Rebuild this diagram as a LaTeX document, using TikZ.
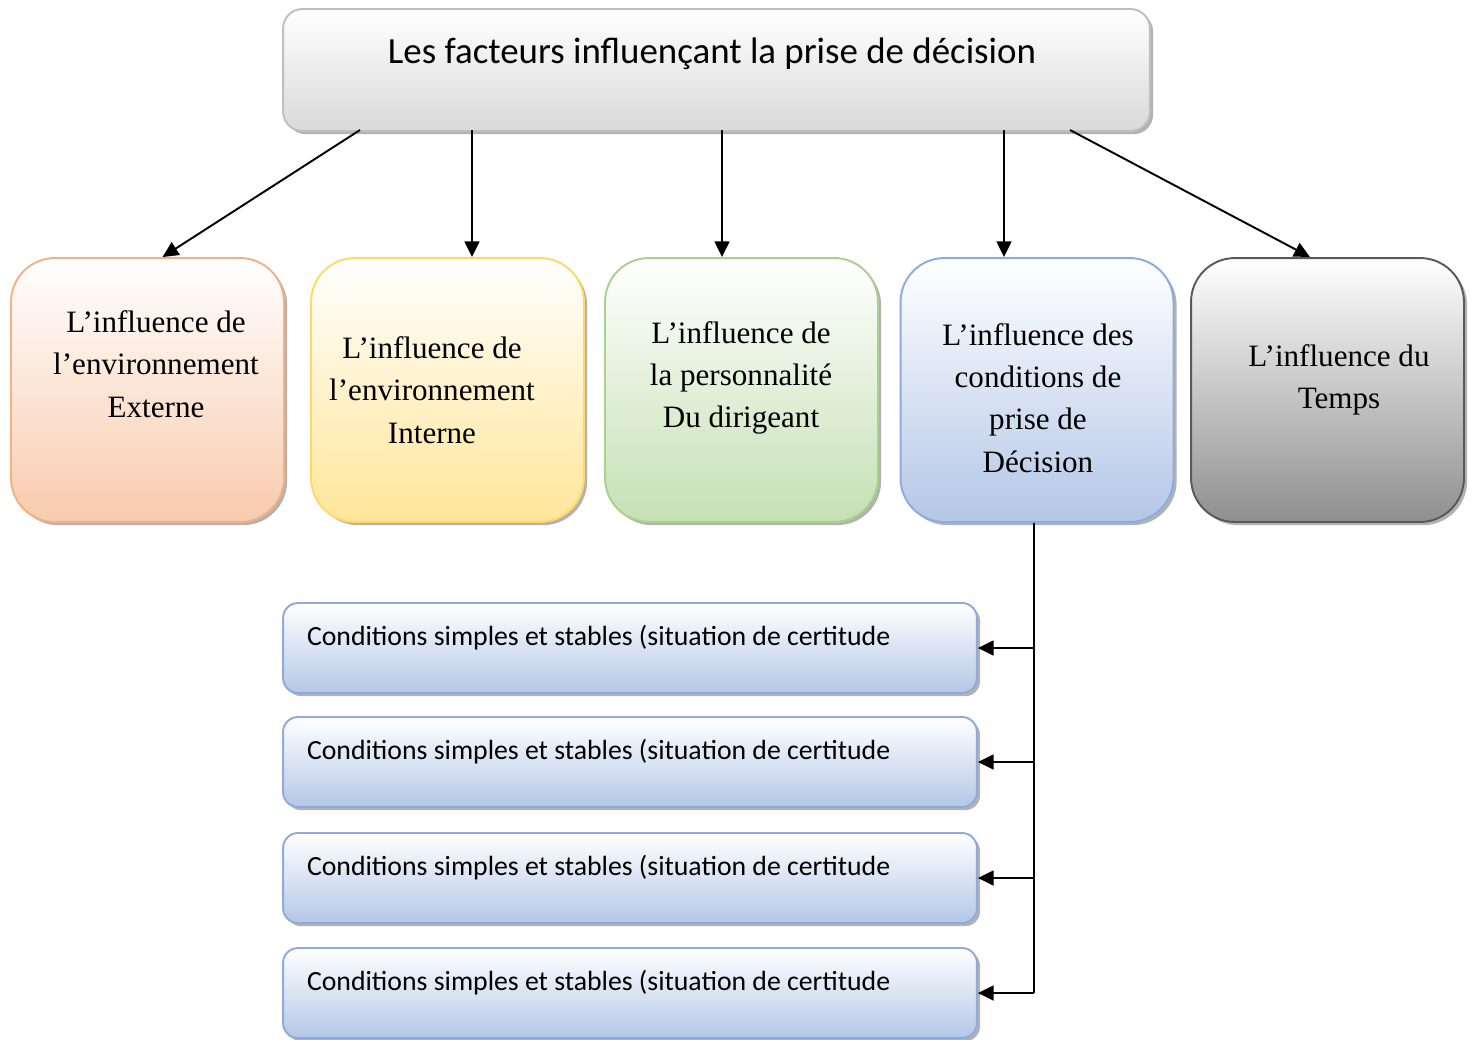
\documentclass[tikz,border=0pt]{standalone}
\usepackage{fontspec}
\setmainfont{Liberation Serif}
\newfontfamily\calibri{Carlito}
\usetikzlibrary{arrows.meta,shadows}

\definecolor{greyline}{HTML}{BFBFBF}
\definecolor{greyfill}{HTML}{D9D9D9}
\definecolor{orgline}{HTML}{F4B183}
\definecolor{orgfill}{HTML}{F8CBAD}
\definecolor{yelline}{HTML}{FFD966}
\definecolor{yelfill}{HTML}{FFE699}
\definecolor{grnline}{HTML}{A9D18E}
\definecolor{grnfill}{HTML}{C5E0B4}
\definecolor{bluline}{HTML}{8FAADC}
\definecolor{blufill}{HTML}{B4C7E7}
\definecolor{darkline}{HTML}{595959}
\definecolor{darkfill}{HTML}{8F8F8F}

\begin{document}
\begin{tikzpicture}[x=0.02cm, y=-0.02cm, line width=1.1pt,
    >={Triangle[length=9pt,width=8.5pt]},
    shade/.style={drop shadow={shadow xshift=1.8pt, shadow yshift=-1.8pt, fill=black, opacity=0.3}},
    card/.style={shade, rounded corners=25pt, minimum width=5.46cm, minimum height=5.28cm,
      top color=white, inner sep=0pt},
    cardtxt/.style={align=center, inner sep=0pt, font=\fontsize{17.7}{24.1}\selectfont},
    sub/.style={shade, draw=bluline, rounded corners=8.5pt, minimum width=13.88cm,
      minimum height=1.8cm, top color=white, bottom color=blufill, inner sep=0pt},
    subtxt/.style={inner sep=0pt, font=\calibri\fontsize{15.8}{19}\selectfont}]

  \useasboundingbox (0,0) rectangle (1475,1039);

  % --- Title ---
  \node[shade, draw=greyline, rounded corners=11pt, minimum width=17.34cm, minimum height=2.44cm,
    top color=white, bottom color=greyfill] (title) at (716.5,70) {};
  \node[font=\calibri\fontsize{21}{25}\selectfont, inner sep=0pt] (titletxt) at (712,54)
    {Les facteurs influençant la prise de décision};

  % --- Factors ---
  \node[card, draw=orgline, bottom color=orgfill] (ext) at (147.5,390) {};
  \node[cardtxt] (exttxt) at (156,364) {L’influence de\\l’environnement\\Externe};

  \node[card, draw=yelline, bottom color=yelfill] (int) at (447.5,390) {};
  \node[cardtxt] (inttxt) at (432,390) {L’influence de\\l’environnement\\Interne};

  \node[card, draw=grnline, bottom color=grnfill] (pers) at (741.5,390) {};
  \node[cardtxt] (perstxt) at (741,378) {L’influence de\\la personnalité\\Du dirigeant};

  \node[card, draw=bluline, bottom color=blufill] (cond) at (1037,390) {};
  \node[cardtxt] (condtxt) at (1038,398) {L’influence des\\conditions de\\prise de\\Décision};

  \node[card, draw=darkline, bottom color=darkfill] (temps) at (1327.5,390) {};
  \node[cardtxt] (tempstxt) at (1339,380) {L’influence du\\Temps};

  % --- Arrows from the title ---
  \coordinate (t1) at (360,130);
  \coordinate (t2) at (472,130);
  \coordinate (t3) at (722,130);
  \coordinate (t4) at (1004,130);
  \coordinate (t5) at (1070,130);
  \draw[->] (t1) -- ([xshift=0.3cm]ext.north);
  \draw[->] (t2) -- (t2 |- int.north);
  \draw[->] (t3) -- (t3 |- pers.north);
  \draw[->] (t4) -- (t4 |- cond.north);
  \draw[->] (t5) -- ([xshift=-0.35cm]temps.north);

  % --- Conditions ---
  \foreach \y [count=\i] in {648,762,878,993} {
    \node[sub] (c\i) at (630,\y) {};
    \node[subtxt, anchor=west] (ct\i) at ([xshift=0.48cm, yshift=0.2cm]c\i.west)
      {Conditions simples et stables (situation de certitude};
  }
  \draw ([xshift=-0.06cm]cond.south) -- ([xshift=-0.06cm]cond.south |- c4.east);
  \foreach \i in {1,...,4}
    \draw[->] ([xshift=-0.06cm]cond.south |- c\i.east) -- (c\i.east);

\end{tikzpicture}
\end{document}
